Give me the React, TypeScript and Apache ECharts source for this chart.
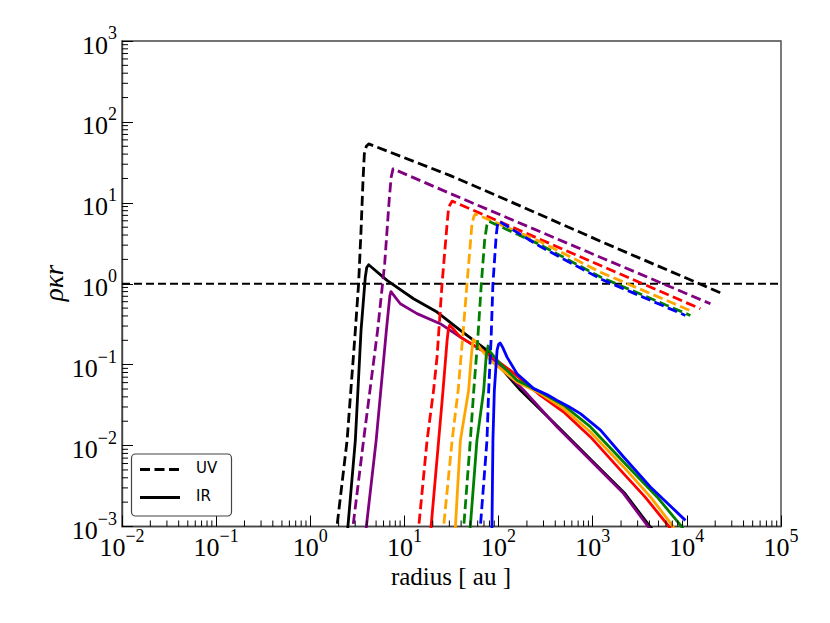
import React, { useEffect, useRef } from "react";
import * as echarts from "echarts";

// Each series: [radius (au), rho*kappa*r]
const uvBlack: [number, number][] = [
  [1.72, 0.000316], [1.92, 0.001], [2.46, 0.0116], [3.01, 0.265], [3.26, 1.0],
  [3.46, 4.55], [3.63, 18.8], [3.75, 40.2], [3.94, 50.1], [4.17, 53.5],
  [30.8, 21.7], [100, 12.0], [1210, 3.35], [23100, 0.766],
];
const uvPurple: [number, number][] = [
  [2.51, 0.000316], [2.84, 0.001], [3.68, 0.0116], [5.19, 0.265], [6.17, 1.77],
  [6.92, 11.7], [7.24, 20.9], [7.57, 26.3], [30.8, 13.0], [1310, 2.04], [17800, 0.566],
];
const uvRed: [number, number][] = [
  [12.9, 0.000316], [14.2, 0.001], [17.4, 0.0116], [20.4, 0.0482], [22.2, 0.124],
  [25.1, 1.0], [28.4, 5.51], [29.5, 8.83], [32.1, 10.5], [1210, 1.68], [13900, 0.491],
];
const uvOrange: [number, number][] = [
  [24.0, 0.000316], [26.1, 0.001], [32.1, 0.0116], [37.2, 0.0482], [41.9, 0.242],
  [46.2, 1.0], [52.2, 5.51], [54.3, 6.61], [56.6, 7.31], [278, 3.31], [1210, 1.39], [11800, 0.447],
];
const uvGreen: [number, number][] = [
  [38.9, 0.000316], [42.7, 0.001], [50.1, 0.0116], [54.5, 0.0482], [60.0, 0.2],
  [65.6, 1.0], [71.1, 3.43], [75.0, 5.25], [78.5, 5.93], [278, 3.02], [1210, 1.21], [10900, 0.406],
];
const uvBlue: [number, number][] = [
  [58.9, 0.000316], [64.1, 0.001], [75.3, 0.0116], [78.5, 0.0482], [83.2, 0.2],
  [87.1, 1.0], [94.4, 3.98], [97.7, 5.5], [102, 5.89], [278, 2.88], [1210, 1.15], [9660, 0.406],
];

const irBlack: [number, number][] = [
  [2.29, 0.000316], [2.51, 0.001], [3.01, 0.0116], [3.46, 0.265], [3.84, 1.21],
  [3.98, 1.59], [4.17, 1.72], [6.53, 1.1], [12.5, 0.653], [22.2, 0.447], [39.3, 0.265],
  [75.5, 0.15], [104, 0.0933], [171, 0.0482], [430, 0.017], [970, 0.00659],
  [2200, 0.00255], [3950, 0.00104], [4800, 0.000794],
];
const irPurple: [number, number][] = [
  [3.63, 0.000316], [3.94, 0.001], [5.01, 0.0116], [6.43, 0.265], [6.7, 0.427],
  [7.0, 0.708], [7.19, 0.8], [9.04, 0.566], [13.6, 0.427], [24.0, 0.321], [39.3, 0.219],
  [75.5, 0.137], [104, 0.0933], [185, 0.0482], [419, 0.017], [946, 0.00659],
  [2130, 0.00255], [3780, 0.00104], [4570, 0.000794],
];
const irRed: [number, number][] = [
  [17.4, 0.000316], [19.2, 0.001], [23.1, 0.0116], [25.7, 0.0482], [28.4, 0.2],
  [29.4, 0.282], [30.2, 0.306], [33.1, 0.275], [39.3, 0.219], [75.5, 0.138],
  [133, 0.0851], [278, 0.0418], [492, 0.026], [946, 0.0128], [2130, 0.00451],
  [3630, 0.00229], [6460, 0.001], [7400, 0.00078],
];
const irOrange: [number, number][] = [
  [32.4, 0.000316], [34.8, 0.001], [39.3, 0.0116], [48.1, 0.0482], [51.3, 0.126],
  [53.6, 0.205], [57.5, 0.19], [66.1, 0.151], [81.9, 0.113], [157, 0.061],
  [278, 0.0439], [492, 0.0286], [946, 0.0147], [2130, 0.00545], [4100, 0.00232],
  [6980, 0.00104], [7940, 0.000794],
];
const irGreen: [number, number][] = [
  [45.7, 0.000316], [50.1, 0.001], [58.9, 0.0116], [69.5, 0.0482], [73.8, 0.126],
  [77.3, 0.17], [81.9, 0.143], [104, 0.103], [157, 0.064], [278, 0.0459],
  [492, 0.0315], [946, 0.017], [2130, 0.00628], [4830, 0.00232], [8550, 0.00104],
  [9550, 0.00087],
];
const irBlue: [number, number][] = [
  [81.3, 0.000316], [85.1, 0.001], [87.1, 0.0116], [90.2, 0.0482], [96.4, 0.151],
  [100, 0.178], [104, 0.185], [110, 0.166], [123, 0.124], [157, 0.0774],
  [236, 0.0506], [330, 0.0425], [419, 0.0362], [560, 0.0302], [740, 0.0248],
  [1210, 0.0155], [2130, 0.00723], [4100, 0.00308], [9660, 0.00119],
];

const unityLine: [number, number][] = [[0.01, 1], [100000, 1]];

const xMin = 0.01;
const xMax = 100000;
const yMin = 0.001;
const yMax = 1000;
const xExponents = [-2, -1, 0, 1, 2, 3, 4];
const yExponents = [-3, -2, -1, 0, 1, 2];
const minorMultipliers = [2, 3, 4, 5, 6, 7, 8, 9];

const SERIF = "Liberation Serif";
const SANS = "DejaVu Sans";

export default function App() {
  const ref = useRef<HTMLDivElement>(null);

  useEffect(() => {
    if (!ref.current) return;
    const chart = echarts.init(ref.current, null, { renderer: "svg" });

    const fmt = (v: number) => {
      const e = Math.round(Math.log10(v));
      const s = e < 0 ? "\u2212" + Math.abs(e) : String(e);
      return `{b|10}{s|${s}}`;
    };
    const rich = {
      b: { fontFamily: SERIF, fontSize: 26, color: "#000", lineHeight: 34, verticalAlign: "bottom" },
      s: { fontFamily: SERIF, fontSize: 18, color: "#000", lineHeight: 17, verticalAlign: "top" },
    };

    const minorX: [number, number][] = [];
    xExponents.forEach((e) => minorMultipliers.forEach((m) => minorX.push([m * Math.pow(10, e), yMin])));
    const minorY: [number, number][] = [];
    yExponents.forEach((e) => minorMultipliers.forEach((m) => minorY.push([xMin, m * Math.pow(10, e)])));

    const mk = (data: [number, number][], color: string, dashed: boolean, z: number) => ({
      type: "line",
      data,
      symbol: "none",
      showSymbol: false,
      smooth: false,
      clip: true,
      silent: true,
      z,
      lineStyle: { color, width: 2.8, type: dashed ? [10, 4.5] : "solid", cap: "butt", join: "round" },
      itemStyle: { color },
    });

    const option: any = {
      animation: false,
      backgroundColor: "#fff",
      grid: {
        left: 122, top: 41, width: 659, height: 485.5,
        show: true, borderColor: "#444", borderWidth: 1.4, backgroundColor: "transparent",
      },
      xAxis: {
        type: "log", logBase: 10, min: xMin, max: xMax, splitNumber: 7,
        axisLine: { show: true, lineStyle: { color: "#444", width: 1.4 } },
        axisTick: { show: true, inside: true, length: 11, lineStyle: { color: "#000", width: 1 } },
        splitLine: { show: false },
        minorTick: { show: false },
        axisLabel: { formatter: fmt, rich, margin: 0, showMinLabel: true, showMaxLabel: true, fontFamily: SERIF, fontSize: 26 },
      },
      yAxis: {
        type: "log", logBase: 10, min: yMin, max: yMax, splitNumber: 6,
        axisLine: { show: true, lineStyle: { color: "#444", width: 1.4 } },
        axisTick: { show: true, inside: true, length: 11, lineStyle: { color: "#000", width: 1 } },
        splitLine: { show: false },
        minorTick: { show: false },
        axisLabel: { formatter: fmt, rich, margin: 5, showMinLabel: true, showMaxLabel: true, fontFamily: SERIF, fontSize: 26 },
      },
      series: [
        {
          type: "custom", silent: true, clip: false, z: 10, data: minorX,
          renderItem: (_p: any, api: any) => {
            const c = api.coord([api.value(0), api.value(1)]);
            return { type: "line", shape: { x1: c[0], y1: c[1], x2: c[0], y2: c[1] - 6 }, style: { stroke: "#000", lineWidth: 1 } };
          },
        },
        {
          type: "custom", silent: true, clip: false, z: 10, data: minorY,
          renderItem: (_p: any, api: any) => {
            const c = api.coord([api.value(0), api.value(1)]);
            return { type: "line", shape: { x1: c[0], y1: c[1], x2: c[0] + 6, y2: c[1] }, style: { stroke: "#000", lineWidth: 1 } };
          },
        },
        {
          type: "line", data: unityLine, symbol: "none", silent: true, z: 1,
          lineStyle: { color: "#000", width: 2.2, type: [8, 4], cap: "butt" },
        },
        mk(uvBlack, "#000000", true, 2),
        mk(irBlack, "#000000", false, 2),
        mk(uvPurple, "#800080", true, 3),
        mk(irPurple, "#800080", false, 3),
        mk(uvRed, "#ff0000", true, 4),
        mk(irRed, "#ff0000", false, 4),
        mk(uvOrange, "#ffa500", true, 5),
        mk(irOrange, "#ffa500", false, 5),
        mk(uvGreen, "#008000", true, 6),
        mk(irGreen, "#008000", false, 6),
        mk(uvBlue, "#0000ff", true, 7),
        mk(irBlue, "#0000ff", false, 7),
      ],
      graphic: [
        {
          type: "text", x: 451, y: 564,
          style: { text: "radius [ au ]", fontFamily: SERIF, fontSize: 25, fill: "#000", align: "center" },
        },
        {
          type: "text", x: 40, y: 283, rotation: Math.PI / 2,
          style: { text: "ρκr", fontFamily: SERIF, fontStyle: "italic", fontSize: 27, fill: "#000", align: "center" },
        },
        { type: "rect", shape: { x: 131.5, y: 454, width: 100, height: 62, r: 4 }, style: { fill: "#fff", stroke: "#444", lineWidth: 1.2 }, z: 30 },
        { type: "line", shape: { x1: 140, y1: 469.5, x2: 180, y2: 469.5 }, style: { stroke: "#000", lineWidth: 2.8, lineDash: [10, 4.5] }, z: 31 },
        { type: "line", shape: { x1: 140, y1: 497.5, x2: 180, y2: 497.5 }, style: { stroke: "#000", lineWidth: 2.8 }, z: 31 },
        { type: "text", x: 196, y: 460, z: 31, style: { text: "UV", fontFamily: SANS, fontSize: 15, fill: "#000" } },
        { type: "text", x: 196, y: 488, z: 31, style: { text: "IR", fontFamily: SANS, fontSize: 15, fill: "#000" } },
      ],
    };

    chart.setOption(option);
    return () => chart.dispose();
  }, []);

  return <div ref={ref} style={{ width: 830, height: 623, margin: -8 }} />;
}
